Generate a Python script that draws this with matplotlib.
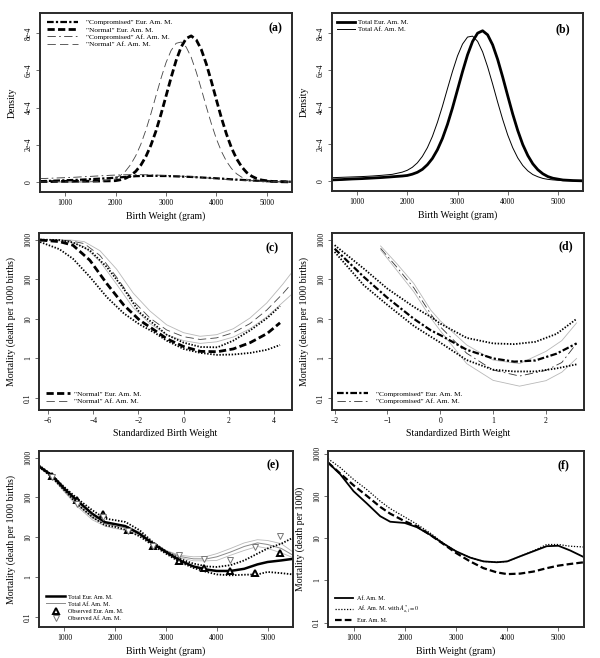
import matplotlib
matplotlib.use("Agg")
import matplotlib.pyplot as plt

plt.rcParams['font.family'] = 'serif'
plt.rcParams['font.serif'] = ['Liberation Serif', 'DejaVu Serif']
plt.rcParams['mathtext.fontset'] = 'stix'

# ---------------- (a), (b): densities (units of 1e-4 per gram)
bw_dens = [500, 700, 900, 1100, 1300, 1500, 1700, 1900, 2000, 2100, 2200, 2300, 2400,
           2500, 2600, 2700, 2800, 2900, 3000, 3100, 3200, 3300, 3400, 3500, 3600, 3700,
           3800, 3900, 4000, 4100, 4200, 4300, 4400, 4500, 4600, 4700, 4800, 4900, 5100,
           5300, 5500]
comp_eur = [0.04, 0.06, 0.08, 0.10, 0.12, 0.15, 0.18, 0.21, 0.23, 0.25, 0.27, 0.29, 0.31,
            0.32, 0.33, 0.33, 0.33, 0.32, 0.32, 0.31, 0.30, 0.29, 0.28, 0.27, 0.255, 0.24,
            0.225, 0.21, 0.195, 0.18, 0.16, 0.14, 0.125, 0.11, 0.095, 0.08, 0.065, 0.05, 0.03,
            0.02, 0.01]
norm_eur = [0.02, 0.02, 0.03, 0.03, 0.04, 0.04, 0.05, 0.06, 0.07, 0.12, 0.20, 0.34, 0.57,
            0.90, 1.36, 1.97, 2.73, 3.63, 4.61, 5.60, 6.52, 7.25, 7.71, 7.85, 7.64, 7.12,
            6.34, 5.41, 4.41, 3.44, 2.57, 1.83, 1.25, 0.82, 0.51, 0.31, 0.18, 0.10, 0.03,
            0.01, 0.0]
comp_af = [0.18, 0.20, 0.22, 0.24, 0.27, 0.30, 0.33, 0.36, 0.37, 0.38, 0.385, 0.39, 0.39,
           0.39, 0.385, 0.38, 0.37, 0.36, 0.35, 0.34, 0.325, 0.31, 0.295, 0.28, 0.26, 0.24,
           0.22, 0.20, 0.18, 0.16, 0.14, 0.12, 0.105, 0.09, 0.075, 0.06, 0.05, 0.04, 0.02,
           0.01, 0.01]
norm_af = [0.0, 0.0, 0.0, 0.0, 0.0, 0.01, 0.03, 0.12, 0.21, 0.36, 0.59, 0.94, 1.41,
           2.02, 2.78, 3.66, 4.62, 5.56, 6.41, 7.06, 7.45, 7.52, 7.25, 6.70, 5.91, 5.00,
           4.04, 3.13, 2.31, 1.64, 1.11, 0.72, 0.44, 0.26, 0.15, 0.08, 0.04, 0.02, 0.0,
           0.0, 0.0]
total_eur = [0.06, 0.08, 0.11, 0.13, 0.16, 0.19, 0.23, 0.27, 0.30, 0.37, 0.47, 0.63, 0.88,
             1.22, 1.69, 2.30, 3.06, 3.95, 4.93, 5.91, 6.82, 7.54, 7.99, 8.12, 7.90, 7.36,
             6.57, 5.62, 4.61, 3.62, 2.73, 1.97, 1.38, 0.93, 0.61, 0.39, 0.24, 0.15, 0.055,
             0.025, 0.01]
total_af = [0.18, 0.20, 0.22, 0.24, 0.27, 0.31, 0.36, 0.48, 0.58, 0.74, 0.98, 1.33, 1.80,
            2.41, 3.17, 4.04, 4.99, 5.92, 6.76, 7.40, 7.78, 7.83, 7.55, 6.98, 6.17, 5.24,
            4.26, 3.33, 2.49, 1.80, 1.25, 0.84, 0.55, 0.35, 0.23, 0.14, 0.09, 0.06, 0.02,
            0.01, 0.01]

# ---------------- (c): "normal" component, mortality vs standardized birth weight
z_norm_eur = [-6.35, -5.5, -4.9, -4.15, -3.4, -2.65, -1.95, -1.25, -0.75, 0.0, 0.75,
              1.5, 2.2, 2.95, 3.7, 4.27]
mort_norm_eur = [977, 891, 724, 302, 77.6, 22.4, 9.3, 5.0, 3.16, 2.0, 1.51,
                 1.48, 1.74, 2.51, 4.27, 7.94]
mort_norm_eur_hi = [1000, 977, 851, 537, 204, 57.5, 14.5, 6.9, 3.98, 2.51, 1.95,
                    1.91, 2.82, 5.13, 10.5, 20.9]
mort_norm_eur_lo = [871, 575, 331, 115, 35.5, 13.8, 7.24, 4.37, 2.82, 1.74, 1.38,
                    1.23, 1.26, 1.38, 1.66, 2.19]
z_norm_af = [-5.9, -5.0, -4.4, -3.7, -2.96, -2.23, -1.49, -0.75, 0.0, 0.73, 1.46,
             2.2, 2.94, 3.68, 4.4, 4.75]
mort_norm_af = [1000, 933, 794, 398, 112, 28.2, 10.5, 5.25, 3.55, 3.02, 3.31,
                4.47, 7.59, 16.6, 43.7, 74.1]
mort_norm_af_hi = [1000, 977, 891, 525, 178, 44.7, 15.8, 7.08, 4.47, 3.63, 3.98,
                   5.62, 10.5, 25.1, 75.9, 138]
mort_norm_af_lo = [955, 871, 661, 282, 74.1, 19.1, 7.59, 3.98, 2.82, 2.4, 2.63,
                   3.47, 5.62, 11.2, 26.3, 39.8]

# ---------------- (d): "compromised" component
z_comp_eur = [-2.0, -1.45, -1.0, -0.5, -0.18, 0.0, 0.5, 1.0, 1.4, 1.8, 2.2, 2.58]
mort_comp_eur = [589, 115, 33.9, 10.0, 5.13, 3.89, 1.66, 1.0, 0.83, 0.89, 1.32, 2.4]
mort_comp_eur_hi = [724, 186, 57.5, 20.0, 11.2, 7.6, 3.3, 2.4, 2.3, 2.63, 4.17, 10.0]
mort_comp_eur_lo = [490, 70.8, 22.4, 6.6, 3.55, 2.51, 0.91, 0.52, 0.47, 0.47, 0.56, 0.71]
z_comp_af = [-1.13, -0.82, -0.5, -0.18, 0.0, 0.5, 1.0, 1.5, 2.0, 2.3, 2.58]
mort_comp_af = [603, 200, 60.3, 13.2, 6.3, 1.35, 0.51, 0.36, 0.50, 0.79, 2.4]
mort_comp_af_hi = [692, 245, 77.6, 16.6, 8.9, 2.19, 0.91, 0.74, 1.51, 2.82, 7.9]
mort_comp_af_lo = [550, 166, 47.9, 10.5, 5.0, 0.74, 0.28, 0.20, 0.275, 0.45, 1.0]

# ---------------- (e): total mortality vs birth weight with observed rates
bw_e = [500, 750, 1000, 1280, 1550, 1800, 2000, 2200, 2480, 2740, 3000, 3270, 3540,
        3800, 4000, 4270, 4540, 4800, 5000, 5270, 5500]
tot_eur = [603, 363, 166, 77.6, 38.9, 24.0, 21.4, 19.1, 12.3, 6.92, 4.27, 2.63, 1.86,
           1.55, 1.43, 1.43, 1.62, 2.09, 2.40, 2.63, 2.88]
tot_eur_hi = [646, 372, 182, 88.1, 47.9, 29.5, 26.9, 24.3, 15.1, 7.59, 4.47, 2.88, 2.19,
              1.86, 1.80, 2.0, 2.63, 3.89, 5.25, 6.92, 9.77]
tot_eur_lo = [589, 327, 151, 63.1, 32.4, 20.0, 18.2, 15.5, 10.6, 6.31, 3.89, 2.40, 1.70,
              1.35, 1.17, 1.11, 1.15, 1.17, 1.35, 1.26, 1.17]
tot_af = [603, 339, 151, 63.1, 30.9, 21.9, 19.1, 17.4, 12.3, 7.24, 4.57, 3.31, 2.88,
          2.88, 3.24, 4.27, 5.89, 7.24, 6.61, 5.25, 3.55]
tot_af_hi = [646, 363, 166, 70.0, 33.9, 24.0, 21.4, 19.5, 13.5, 7.59, 4.68, 3.55, 3.24,
             3.31, 3.89, 5.25, 7.24, 8.71, 8.32, 6.92, 4.27]
tot_af_lo = [589, 316, 138, 55.6, 27.5, 19.1, 16.6, 15.1, 11.2, 6.61, 4.27, 3.09, 2.57,
             2.57, 2.63, 3.55, 4.68, 5.89, 5.25, 4.07, 3.09]
bw_obs = [750, 1250, 1750, 2250, 2750, 3250, 3750, 4250, 4750, 5250]
obs_eur = [340, 85, 38, 15.2, 5.9, 2.6, 1.7, 1.43, 1.27, 4.1]
obs_af = [326, 70, 32, 14.5, 5.9, 3.55, 2.9, 2.75, 5.8, 10.6]

# ---------------- (f)
bw_f = [500, 740, 1000, 1260, 1520, 1715, 2000, 2236, 2496, 2756, 3000, 3276, 3537,
        3797, 4000, 4252, 4512, 4772, 5000, 5228, 5500]
f_af = [617, 324, 129, 66.1, 33.1, 24.5, 22.9, 18.2, 12.0, 7.41, 4.90, 3.47, 2.82,
        2.69, 2.82, 3.72, 4.90, 6.46, 6.61, 5.13, 3.55]
f_af_a0 = [759, 468, 245, 141, 75.0, 50.1, 31.6, 21.4, 13.2, 7.59, 4.90, 3.47, 2.82,
           2.69, 2.82, 3.72, 5.01, 7.08, 7.08, 6.46, 6.17]
f_eur = [617, 339, 178, 100, 55.0, 38.0, 25.1, 19.1, 12.0, 7.24, 4.47, 2.82, 1.95,
         1.55, 1.41, 1.45, 1.62, 1.95, 2.24, 2.45, 2.69]

dens_ticks = [0, 2, 4, 6, 8]
dens_labels = ['0', '2e-4', '4e-4', '6e-4', '8e-4']
log_ticks = [0.1, 1, 10, 100, 1000]
log_labels = ['0.1', '1', '10', '100', '1000']

# line styles
THICK_DASH = dict(color='black', lw=2.0, ls=(0, (2.6, 1.2)))
THICK_DASHDOT = dict(color='black', lw=1.6, ls=(0, (3, 1, 1, 1)))
THIN_DASHDOT = dict(color='#333333', lw=0.6, ls=(0, (10, 4, 2, 4)))
THIN_DASH = dict(color='#444444', lw=0.6, ls=(0, (10, 5)))
DOTS = dict(color='black', lw=1.3, ls=(0, (0.8, 0.9)))
GREY = dict(color='#b8b8b8', lw=0.6, ls='-')

fig = plt.figure(figsize=(6.0, 6.58), dpi=100)
W, H = 600.0, 658.0


def add_axes(l, t, r, b):
    return fig.add_axes([l / W, 1 - b / H, (r - l) / W, (b - t) / H])


def style(ax, tag, tx, ty):
    for s in ax.spines.values():
        s.set_linewidth(1.4)
        s.set_color('#2a2a2a')
    ax.tick_params(length=3, width=0.6, labelsize=5.5, pad=2, color='#555555')
    ax.tick_params(axis='y', labelrotation=90)
    for lab in ax.get_yticklabels():
        lab.set_va('center')
    ax.text(tx, ty, tag, transform=ax.transAxes, fontsize=8.5, fontweight='bold',
            ha='center', va='center')


def log_axis(ax, lo, hi):
    ax.set_yscale('log')
    ax.set_ylim(lo, hi)
    ax.set_yticks(log_ticks)
    ax.set_yticklabels(log_labels)
    ax.minorticks_off()


def legend(ax, handles, loc, anchor, size, hlen, pad, spacing):
    ax.legend(handles=handles, loc=loc, bbox_to_anchor=anchor, frameon=False,
              fontsize=size, borderpad=0, borderaxespad=0, labelspacing=spacing,
              handlelength=hlen, handletextpad=pad)


# ---- (a)
ax = add_axes(40, 13, 292, 192)
l1, = ax.plot(bw_dens, comp_eur, **THICK_DASHDOT, label='"Compromised" Eur. Am. M.')
l2, = ax.plot(bw_dens, norm_eur, **THICK_DASH, label='"Normal" Eur. Am. M.')
l3, = ax.plot(bw_dens, comp_af, **THIN_DASHDOT, label='"Compromised" Af. Am. M.')
l4, = ax.plot(bw_dens, norm_af, **THIN_DASH, label='"Normal" Af. Am. M.')
ax.set_xlim(500, 5500)
ax.set_ylim(-0.54, 9.08)
ax.set_xticks([1000, 2000, 3000, 4000, 5000])
ax.set_yticks(dens_ticks)
ax.set_yticklabels(dens_labels)
ax.set_xlabel('Birth Weight (gram)', fontsize=7, labelpad=3)
ax.set_ylabel('Density', fontsize=7, labelpad=6)
legend(ax, [l1, l2, l3, l4], 'upper left', (0.027, 0.965), 5.3, 4.2, 1.15, 0.15)
style(ax, '(a)', 0.933, 0.914)

# ---- (b)
ax = add_axes(332, 13, 583, 191)
l1, = ax.plot(bw_dens, total_eur, color='black', lw=2.0, label='Total Eur. Am. M.')
l2, = ax.plot(bw_dens, total_af, color='black', lw=0.7, label='Total Af. Am. M.')
ax.set_xlim(500, 5500)
ax.set_ylim(-0.54, 9.08)
ax.set_xticks([1000, 2000, 3000, 4000, 5000])
ax.set_yticks(dens_ticks)
ax.set_yticklabels(dens_labels)
ax.set_xlabel('Birth Weight (gram)', fontsize=7, labelpad=3)
ax.set_ylabel('Density', fontsize=7, labelpad=6)
legend(ax, [l1, l2], 'upper left', (0.021, 0.965), 5.0, 2.5, 0.5, 0.2)
style(ax, '(b)', 0.92, 0.908)

# ---- (c)
ax = add_axes(39, 233, 292, 410)
ax.plot(z_norm_af, mort_norm_af_hi, **GREY)
ax.plot(z_norm_af, mort_norm_af_lo, **GREY)
l2, = ax.plot(z_norm_af, mort_norm_af, **THIN_DASH, label='"Normal" Af. Am. M.')
ax.plot(z_norm_eur, mort_norm_eur_hi, **DOTS)
ax.plot(z_norm_eur, mort_norm_eur_lo, **DOTS)
l1, = ax.plot(z_norm_eur, mort_norm_eur, **THICK_DASH, label='"Normal" Eur. Am. M.')
ax.set_xlim(-6.4, 4.8)
log_axis(ax, 0.05, 1470)
ax.set_xticks([-6, -4, -2, 0, 2, 4])
ax.set_xlabel('Standardized Birth Weight', fontsize=7, labelpad=3)
ax.set_ylabel('Mortality (death per 1000 births)', fontsize=7, labelpad=6)
legend(ax, [l1, l2], 'lower left', (0.028, 0.033), 5.3, 3.3, 0.55, 0.15)
style(ax, '(c)', 0.92, 0.914)

# ---- (d)
ax = add_axes(332, 233, 584, 410)
ax.plot(z_comp_af, mort_comp_af_hi, **GREY)
ax.plot(z_comp_af, mort_comp_af_lo, **GREY)
l2, = ax.plot(z_comp_af, mort_comp_af, **THIN_DASHDOT, label='"Compromised" Af. Am. M.')
ax.plot(z_comp_eur, mort_comp_eur_hi, **DOTS)
ax.plot(z_comp_eur, mort_comp_eur_lo, **DOTS)
l1, = ax.plot(z_comp_eur, mort_comp_eur, **THICK_DASHDOT, label='"Compromised" Eur. Am. M.')
ax.set_xlim(-2.05, 2.72)
log_axis(ax, 0.05, 1470)
ax.set_xticks([-2, -1, 0, 1, 2])
ax.set_xlabel('Standardized Birth Weight', fontsize=7, labelpad=3)
ax.set_ylabel('Mortality (death per 1000 births)', fontsize=7, labelpad=6)
legend(ax, [l1, l2], 'lower left', (0.021, 0.033), 5.3, 4.2, 1.1, 0.15)
style(ax, '(d)', 0.927, 0.923)

# ---- (e)
ax = add_axes(39, 451, 293, 627)
ax.plot(bw_e, tot_af_hi, **GREY)
ax.plot(bw_e, tot_af_lo, **GREY)
l2, = ax.plot(bw_e, tot_af, color='#8a8a8a', lw=0.7, label='Total Af. Am. M.')
ax.plot(bw_e, tot_eur_hi, **DOTS)
ax.plot(bw_e, tot_eur_lo, **DOTS)
l1, = ax.plot(bw_e, tot_eur, color='black', lw=1.8, label='Total Eur. Am. M.')
l3, = ax.plot(bw_obs, obs_eur, ls='none', marker='^', ms=4.5, mfc='white', mec='black',
              mew=1.4, label='Observed Eur. Am. M.')
l4, = ax.plot(bw_obs, obs_af, ls='none', marker='v', ms=4.5, mfc='white', mec='#777777',
              mew=0.7, label='Observed Af. Am. M.')
ax.set_xlim(500, 5500)
log_axis(ax, 0.056, 1470)
ax.set_xticks([1000, 2000, 3000, 4000, 5000])
ax.set_xlabel('Birth Weight (gram)', fontsize=7, labelpad=3)
ax.set_ylabel('Mortality (death per 1000 births)', fontsize=7, labelpad=6)
legend(ax, [l1, l2, l3, l4], 'lower left', (0.028, 0.035), 4.4, 3.1, 0.55, 0.3)
style(ax, '(e)', 0.92, 0.92)

# ---- (f)
ax = add_axes(328, 451, 584, 627)
l1, = ax.plot(bw_f, f_af, color='black', lw=1.3, label='Af. Am. M.')
l2, = ax.plot(bw_f, f_af_a0, color='black', lw=0.9, ls=(0, (1, 1.3)),
              label=r'Af. Am. M. with $A^{*}_{a,l} = 0$')
l3, = ax.plot(bw_f, f_eur, color='black', lw=1.6, ls=(0, (3, 1.4)), label='Eur. Am. M.')
ax.set_xlim(500, 5500)
log_axis(ax, 0.079, 1157)
ax.set_xticks([1000, 2000, 3000, 4000, 5000])
ax.set_xlabel('Birth Weight (gram)', fontsize=7, labelpad=3)
ax.set_ylabel('Mortality (death per 1000)', fontsize=7, labelpad=6)
legend(ax, [l1, l2, l3], 'lower left', (0.027, 0.024), 4.4, 3.0, 0.55, 0.35)
style(ax, '(f)', 0.919, 0.92)

fig.savefig('out.png', dpi=100)
